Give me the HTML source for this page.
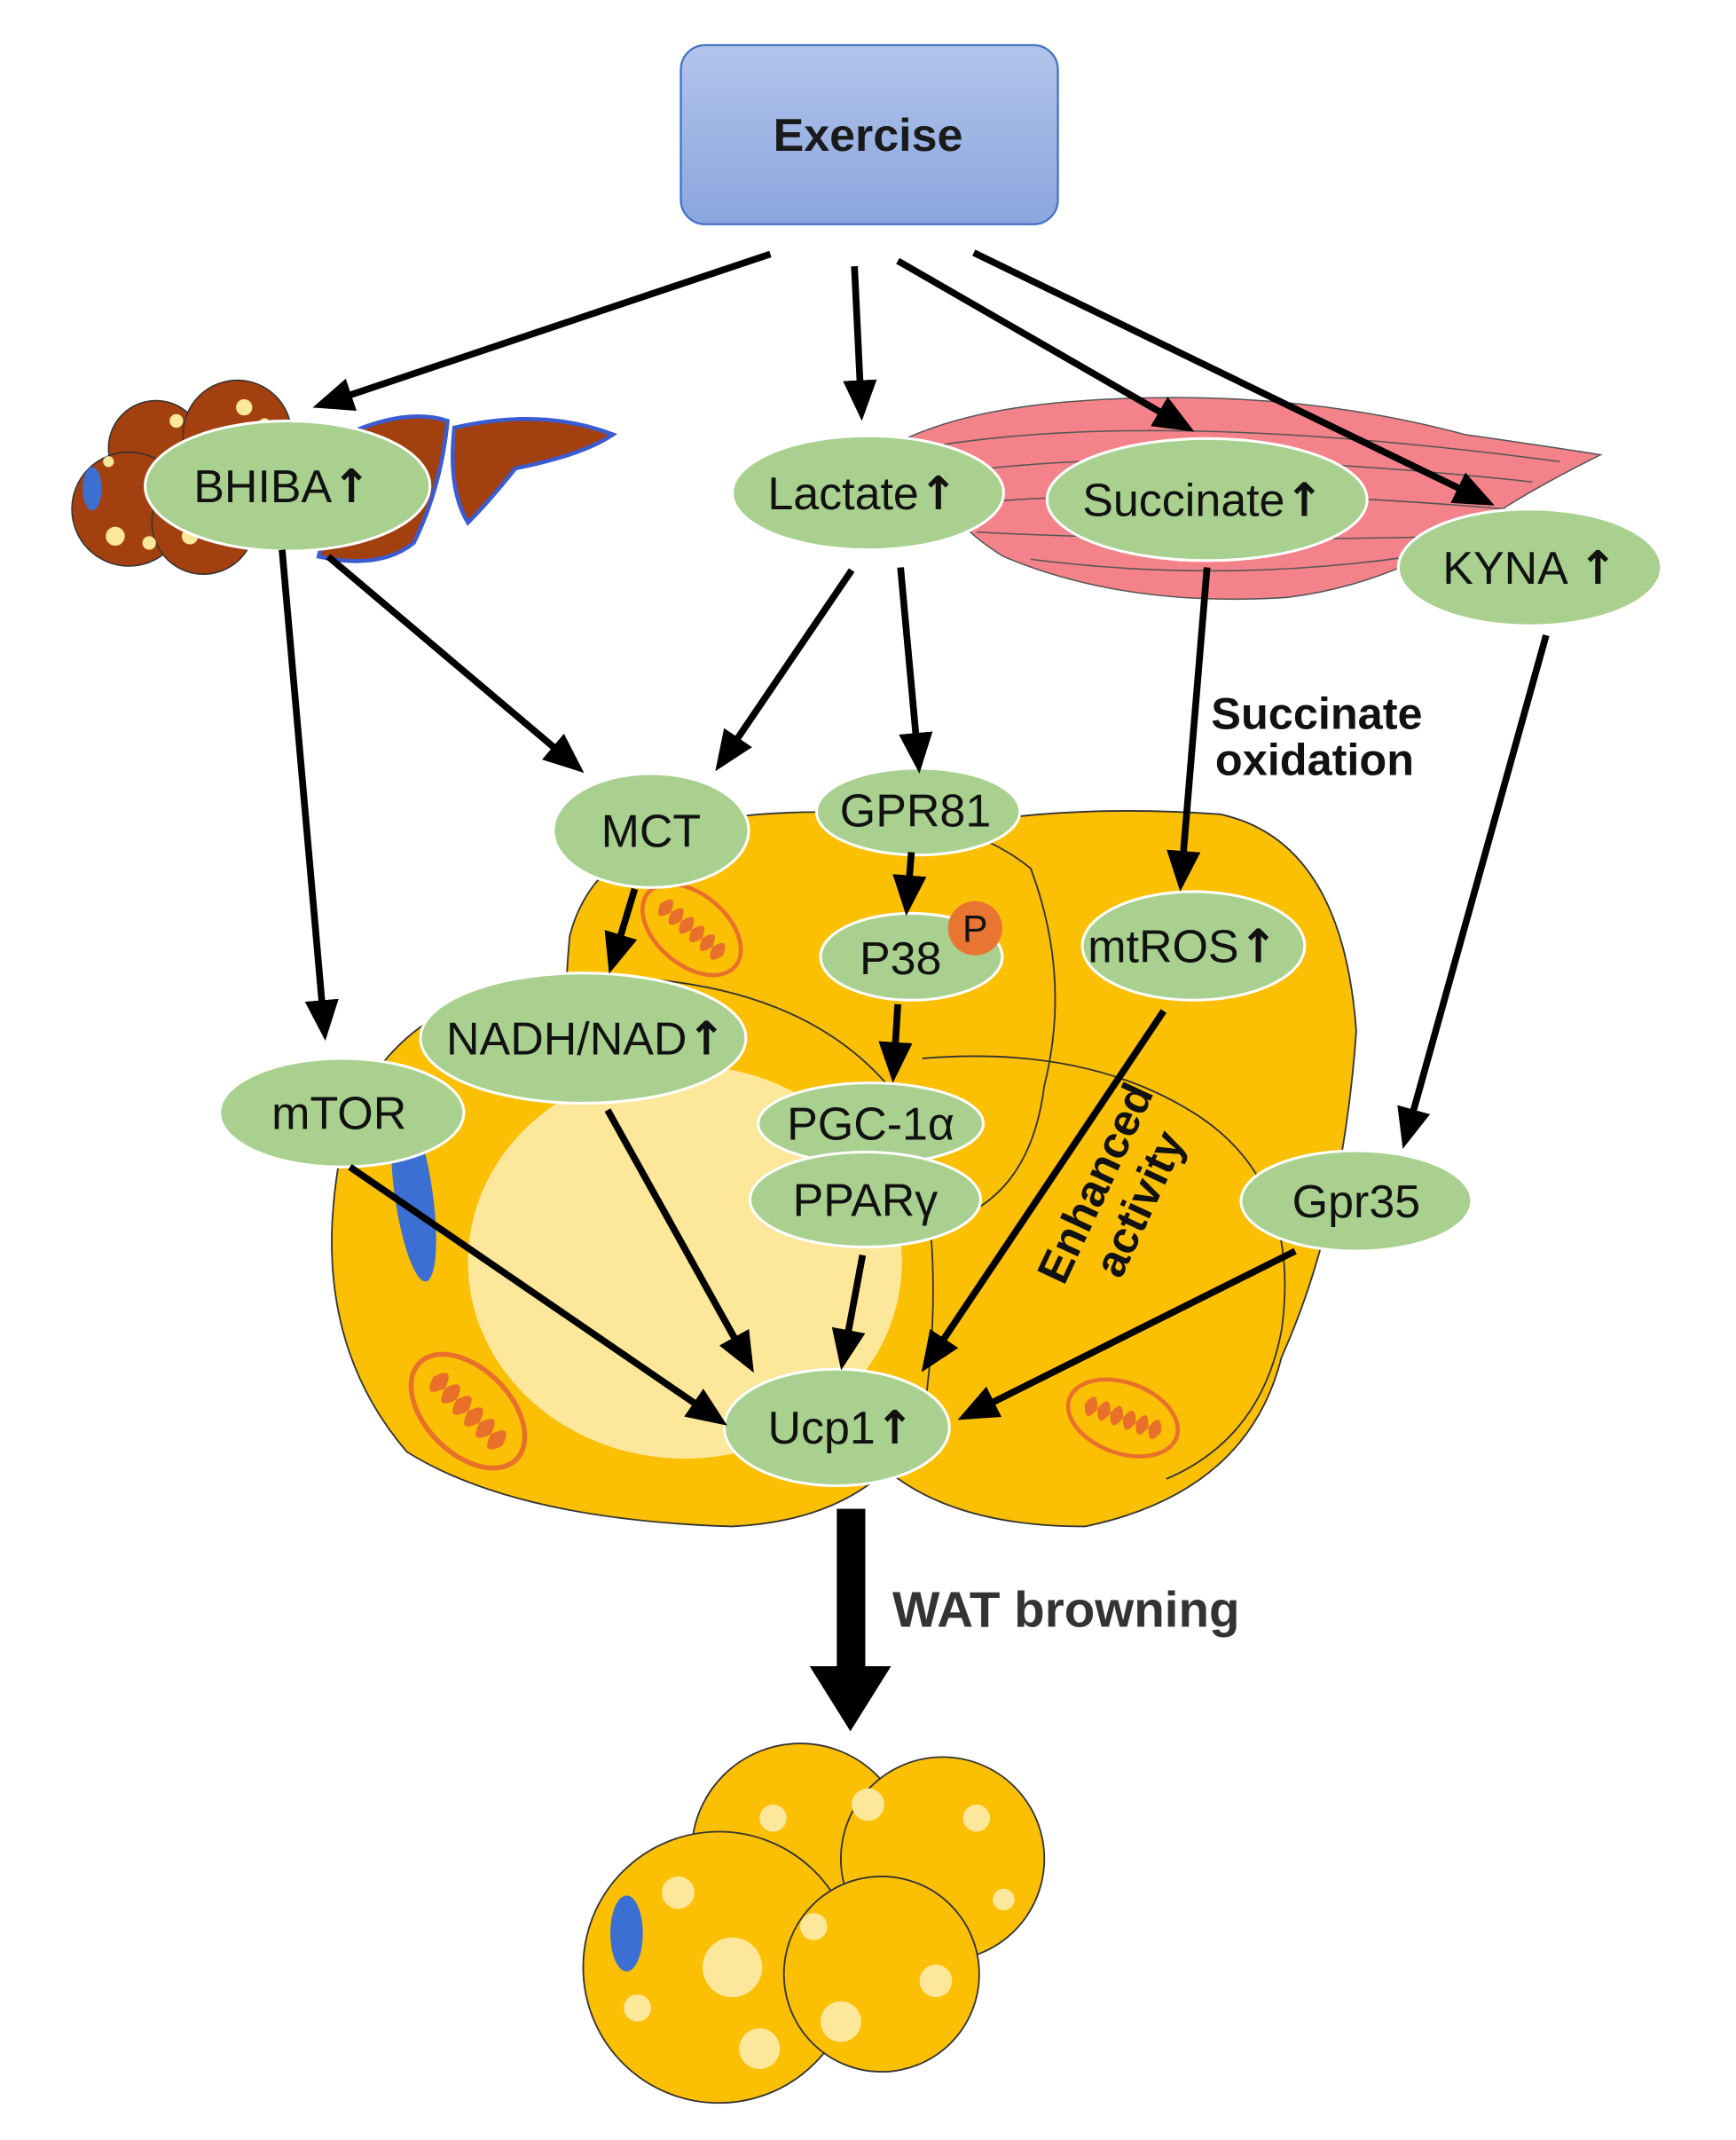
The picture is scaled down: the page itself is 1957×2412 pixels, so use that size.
<!DOCTYPE html>
<html><head><meta charset="utf-8"><style>
html,body{margin:0;padding:0;background:#fff;}
svg{display:block;}
text{font-family:"Liberation Sans",sans-serif;}
.u{font-weight:bold;font-family:"DejaVu Sans",sans-serif;}
</style></head><body>
<svg width="1957" height="2412" viewBox="0 0 1280 1577" xmlns="http://www.w3.org/2000/svg">
<defs>
<linearGradient id="ex" x1="0" y1="0" x2="0" y2="1"><stop offset="0" stop-color="#b1c4ea"/><stop offset="1" stop-color="#8aa6de"/></linearGradient>
<marker id="ah" markerWidth="6" markerHeight="6" refX="4" refY="3" orient="auto" markerUnits="strokeWidth"><path d="M0,0.5 L6,3 L0,5.5 z" fill="#000"/></marker>
<g id="mito"><ellipse cx="0" cy="0" rx="42" ry="26" fill="#fbbf04" stroke="#e8702a" stroke-width="3"/><path d="M-30,0 q5,-15 10,0 q5,-15 10,0 q5,-15 10,0 q5,-15 10,0 q5,-15 10,0 q5,-15 10,0 q-5,15 -10,0 q-5,15 -10,0 q-5,15 -10,0 q-5,15 -10,0 q-5,15 -10,0 q-5,15 -10,0z" fill="#e8702a"/></g>
</defs>
<rect width="1280" height="1577" fill="#fff"/>
<rect x="502" y="33" width="278" height="132" rx="18" fill="url(#ex)" stroke="#4472c4" stroke-width="1.5"/>
<text x="640" y="111" font-size="34" font-weight="bold" text-anchor="middle" fill="#1a1a1a">Exercise</text>
<g stroke="#333" stroke-width="1">
<circle cx="115" cy="330" r="35" fill="#a3400f"/>
<circle cx="175" cy="320" r="40" fill="#a3400f"/>
<circle cx="95" cy="375" r="42" fill="#a3400f"/>
<circle cx="150" cy="385" r="38" fill="#a3400f"/>
</g>
<ellipse cx="68" cy="360" rx="7" ry="16" fill="#3b6fd1"/>
<g fill="#fde79a"><circle cx="85" cy="395" r="7"/><circle cx="110" cy="400" r="5"/><circle cx="130" cy="310" r="5"/><circle cx="180" cy="300" r="6"/><circle cx="195" cy="312" r="4"/><circle cx="140" cy="395" r="6"/><circle cx="80" cy="340" r="4"/></g>
<path d="M255,320 Q300,300 330,310 Q325,360 305,400 Q280,420 235,410 Z" fill="#a3400f" stroke="#3b5bd1" stroke-width="3"/>
<path d="M335,315 Q400,300 452,320 Q430,335 380,345 Q360,370 345,385 Q330,360 335,315Z" fill="#a3400f" stroke="#3b5bd1" stroke-width="3"/>
<path d="M670,322 Q720,300 800,295 Q950,285 1080,320 Q1150,330 1180,335 Q1130,360 1100,380 Q1030,430 950,440 Q830,448 740,410 Q690,380 670,322Z" fill="#f4828a" stroke="#555" stroke-width="1"/>
<g fill="none" stroke="#555" stroke-width="1"><path d="M680,330 Q850,300 1150,340"/><path d="M690,350 Q850,325 1130,355"/><path d="M700,372 Q880,355 1110,375"/><path d="M720,392 Q880,400 1080,395"/><path d="M760,412 Q900,430 1040,410"/></g>
<g stroke="#333" stroke-width="1.2" fill="#fbbf04">
<path d="M650,620 Q760,590 900,600 Q990,620 1000,760 Q990,900 945,1000 Q920,1100 800,1125 Q700,1125 650,1080 Z"/>
<path d="M420,690 Q440,610 560,600 Q700,590 760,640 Q790,720 770,800 Q760,880 700,900 L430,900 Q410,800 420,690Z"/>
<path d="M260,820 Q300,730 420,720 Q600,715 670,820 Q700,920 680,1050 Q640,1120 540,1125 Q380,1120 300,1070 Q240,1000 245,900 Q248,850 260,820Z"/>
<path d="M680,780 Q800,770 880,820 Q960,870 945,980 Q930,1060 860,1090" fill="none"/>
</g>
<ellipse cx="505" cy="930" rx="160" ry="145" fill="#fde79a"/>
<ellipse cx="305" cy="880" rx="14" ry="65" fill="#3b6fd1" transform="rotate(-8 305 880)"/>
<use href="#mito" transform="translate(510,685) rotate(40)"/>
<use href="#mito" transform="translate(345,1040) rotate(45) scale(1.2)"/>
<use href="#mito" transform="translate(828,1045) rotate(20)"/>
<g stroke="#333" stroke-width="1.2" fill="#fbbf04">
<circle cx="590" cy="1365" r="80"/><circle cx="695" cy="1370" r="75"/>
<circle cx="530" cy="1450" r="100"/><circle cx="650" cy="1455" r="72"/>
</g>
<ellipse cx="462" cy="1425" rx="12" ry="28" fill="#3b6fd1"/>
<g fill="#fde79a"><circle cx="540" cy="1450" r="22"/><circle cx="500" cy="1395" r="12"/><circle cx="600" cy="1420" r="10"/><circle cx="620" cy="1490" r="15"/><circle cx="570" cy="1340" r="10"/><circle cx="640" cy="1330" r="12"/><circle cx="720" cy="1340" r="10"/><circle cx="690" cy="1460" r="12"/><circle cx="560" cy="1510" r="15"/><circle cx="470" cy="1480" r="10"/><circle cx="740" cy="1400" r="8"/></g>
<g fill="#a9d08e" stroke="#fff" stroke-width="2">
<ellipse cx="212" cy="358" rx="105" ry="48"/>
<ellipse cx="640" cy="363" rx="100" ry="42"/>
<ellipse cx="890" cy="368" rx="118" ry="45"/>
<ellipse cx="1128" cy="418" rx="97" ry="43"/>
<ellipse cx="480" cy="612" rx="72" ry="42"/>
<ellipse cx="677" cy="598" rx="75" ry="32"/>
<ellipse cx="672" cy="705" rx="67" ry="32"/>
<ellipse cx="880" cy="697" rx="82" ry="40"/>
<ellipse cx="430" cy="765" rx="120" ry="48"/>
<ellipse cx="252" cy="820" rx="90" ry="40"/>
<ellipse cx="642" cy="828" rx="83" ry="30"/>
<ellipse cx="638" cy="884" rx="85" ry="35"/>
<ellipse cx="1000" cy="885" rx="85" ry="37"/>
<ellipse cx="617" cy="1052" rx="83" ry="43"/>
</g>
<circle cx="719" cy="684" r="20" fill="#e87532"/>
<text x="719" y="694" font-size="28" text-anchor="middle" fill="#111">P</text>
<g font-size="34" fill="#111" text-anchor="middle">
<text x="208" y="370">BHIBA<tspan class="u">↑</tspan></text>
<text x="636" y="375">Lactate<tspan class="u">↑</tspan></text>
<text x="887" y="380">Succinate<tspan class="u">↑</tspan></text>
<text x="1128" y="430">KYNA <tspan class="u">↑</tspan></text>
<text x="480" y="624">MCT</text>
<text x="675" y="609">GPR81</text>
<text x="664" y="718">P38</text>
<text x="872" y="709">mtROS<tspan class="u">↑</tspan></text>
<text x="432" y="777">NADH/NAD<tspan class="u">↑</tspan></text>
<text x="250" y="832">mTOR</text>
<text x="642" y="840">PGC-1α</text>
<text x="638" y="896">PPARγ</text>
<text x="1000" y="897">Gpr35</text>
<text x="620" y="1064">Ucp1<tspan class="u">↑</tspan></text>
</g>
<g stroke="#000" stroke-width="5" marker-end="url(#ah)">
<line x1="568" y1="187" x2="240" y2="297"/>
<line x1="630" y1="196" x2="635" y2="300"/>
<line x1="662" y1="192" x2="872" y2="313"/>
<line x1="718" y1="186" x2="1093" y2="368"/>
<line x1="208" y1="405" x2="239" y2="757"/>
<line x1="242" y1="410" x2="423" y2="563"/>
<line x1="628" y1="420" x2="533" y2="560"/>
<line x1="664" y1="418" x2="677" y2="560"/>
<line x1="890" y1="418" x2="871" y2="647"/>
<line x1="1140" y1="468" x2="1037" y2="837"/>
<line x1="468" y1="655" x2="452" y2="708"/>
<line x1="672" y1="628" x2="669" y2="665"/>
<line x1="662" y1="740" x2="659" y2="788"/>
<line x1="258" y1="860" x2="528" y2="1045"/>
<line x1="448" y1="818" x2="551" y2="1003"/>
<line x1="636" y1="925" x2="622" y2="1000"/>
<line x1="858" y1="745" x2="685" y2="1003"/>
<line x1="955" y1="922" x2="715" y2="1042"/>
</g>
<rect x="617" y="1112" width="21" height="120" fill="#000"/>
<polygon points="597,1228 657,1228 627,1276" fill="#000"/>
<text x="658" y="1199" font-size="37" font-weight="bold" fill="#333">WAT browning</text>
<text x="893" y="537" font-size="33" font-weight="bold" fill="#111">Succinate</text>
<text x="896" y="571" font-size="33" font-weight="bold" fill="#111">oxidation</text>
<g transform="translate(825,880) rotate(-65)" font-size="33" font-weight="bold" fill="#111" text-anchor="middle">
<text x="0" y="-8">Enhanced</text><text x="0" y="28">activity</text></g>
</svg>
</body></html>
